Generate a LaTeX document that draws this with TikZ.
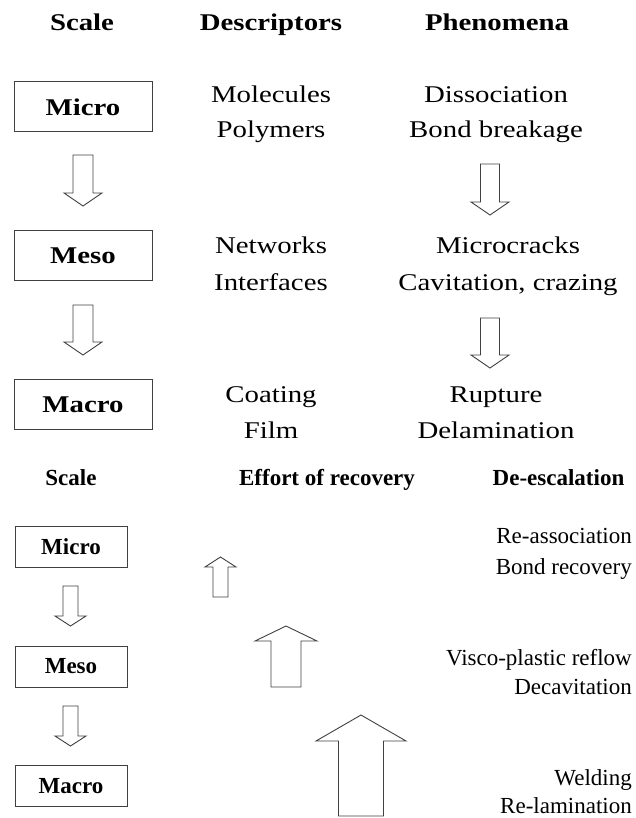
\documentclass[tikz,border=0pt]{standalone}
\usepackage{fontspec}
\setmainfont{Liberation Serif}
\newfontfamily\widefont[FakeStretch=1.2]{Liberation Serif}
\usetikzlibrary{calc}

% hollow block arrow: centre x, half shaft, half head, tail y, head base y, tip y
\newcommand{\blockarr}[6]{%
  \draw[blockarrow] (#1-#2,#4) -- (#1+#2,#4) -- (#1+#2,#5) -- (#1+#3,#5)
    -- (#1,#6) -- (#1-#3,#5) -- (#1-#2,#5) -- cycle;}

\tikzset{
  blockarrow/.style={draw=black!75, line width=0.9pt, fill=white, line join=miter},
  tophead/.style={anchor=base, inner sep=0pt, font=\widefont\fontsize{24}{24}\selectfont\bfseries},
  toptxt/.style={anchor=base, inner sep=0pt, font=\widefont\fontsize{24}{24}\selectfont},
  topbox/.style={draw=black!75, line width=1pt, minimum width=138pt, minimum height=50pt,
    inner sep=0pt, font=\widefont\fontsize{24}{24}\selectfont\bfseries},
  bothead/.style={anchor=base, inner sep=0pt, font=\fontsize{23}{23}\selectfont\bfseries},
  bottxt/.style={anchor=base east, inner sep=0pt, font=\fontsize{23}{23}\selectfont},
  botbox/.style={draw=black!75, line width=1pt, minimum width=112pt, minimum height=41pt,
    inner sep=0pt, font=\fontsize{23}{23}\selectfont\bfseries},
}

\begin{document}
\begin{tikzpicture}[x=1pt, y=-1pt]
  \useasboundingbox (0,0) rectangle (636,818);

  % upper part: damage across scales
  \node[tophead] (hscale) at (82,31) {Scale};
  \node[tophead] (hdesc) at (271,31) {Descriptors};
  \node[tophead] (hphen) at (497,31) {Phenomena};

  \node[topbox] (micro) at (83,107) {Micro};
  \node[topbox] (meso) at (83,255.5) {Meso};
  \node[topbox] (macro) at (83,404.5) {Macro};

  \node[toptxt] (molec) at (271,103) {Molecules};
  \node[toptxt] (polym) at (271,138) {Polymers};
  \node[toptxt] (netw) at (271,253) {Networks};
  \node[toptxt] (inter) at (271,290) {Interfaces};
  \node[toptxt] (coat) at (271,402) {Coating};
  \node[toptxt] (film) at (271,438) {Film};

  \node[toptxt] (dissoc) at (496,103) {Dissociation};
  \node[toptxt] (bondbr) at (496,138) {Bond breakage};
  \node[toptxt] (mcrack) at (508,253) {Microcracks};
  \node[toptxt] (cavit) at (508,290) {Cavitation, crazing};
  \node[toptxt] (rupt) at (496,402) {Rupture};
  \node[toptxt] (delam) at (496,438) {Delamination};

  \blockarr{83}{10}{19}{155}{193}{206}
  \blockarr{83}{10}{19}{305}{342}{355}
  \blockarr{490}{9.5}{19}{164}{202}{215}
  \blockarr{490}{9.5}{19}{318}{355}{368}

  % lower part: recovery
  \node[bothead] (hscale2) at (71,485) {Scale};
  \node[bothead] (heffort) at (327,485) {Effort of recovery};
  \node[bothead] (hdeesc) at (558.5,485) {De-escalation};

  \node[botbox] (micro2) at (71,546.5) {Micro};
  \node[botbox] (meso2) at (71,666.5) {Meso};
  \node[botbox] (macro2) at (71,786) {Macro};

  \node[bottxt] (reassoc) at (632,543) {Re-association};
  \node[bottxt] (bondrec) at (632,574) {Bond recovery};
  \node[bottxt] (visco) at (632,665) {Visco-plastic reflow};
  \node[bottxt] (decav) at (632,694) {Decavitation};
  \node[bottxt] (weld) at (632,785) {Welding};
  \node[bottxt] (relam) at (632,813) {Re-lamination};

  \blockarr{70.5}{7.5}{15.5}{586}{616}{626}
  \blockarr{70.5}{7.5}{15.5}{706}{736}{746}
  \blockarr{220.5}{7.5}{15.5}{597}{567}{557}
  \blockarr{286}{15}{31}{687}{641}{626}
  \blockarr{361}{22.5}{45}{816}{741}{715}
\end{tikzpicture}
\end{document}
